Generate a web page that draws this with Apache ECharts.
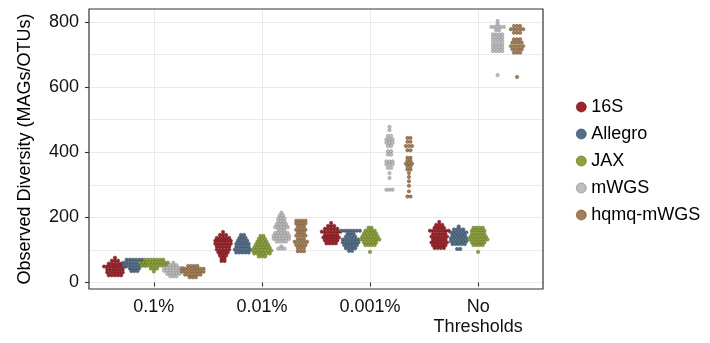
<!DOCTYPE html>
<html>
<head>
<meta charset="utf-8">
<script src="https://cdn.jsdelivr.net/npm/echarts@6/dist/echarts.min.js"></script>
<style>html,body{margin:0;padding:0;background:#fff;}#c{width:710px;height:343px;}</style>
</head>
<body>
<div id="c"></div>
<script>
// ---- Data ----
const categories = ['0.1%', '0.01%', '0.001%', 'No\nThresholds'];
const seriesNames = ['16S', 'Allegro', 'JAX', 'mWGS', 'hqmq-mWGS'];
const yTickLabels = [0, 200, 400, 600, 800];

// each group: rows of the dot stack as [value, number of dots in that row]
const rows16S = [
  [[76,1],[67,3],[58,5],[49,8],[40,6],[31,6],[22,5]],
  [[155,1],[146,3],[137,5],[128,6],[119,6],[110,5],[101,5],[92,4],[83,3],[74,2],[66,2]],
  [[183,1],[174,3],[165,5],[156,7],[147,5],[138,6],[129,5],[120,4]],
  [[186,1],[177,3],[168,4],[159,7],[150,5],[141,6],[132,5],[123,6],[114,5],[106,4]]
];
const rowsAllegro = [
  [[70,6],[61,8],[52,8],[43,4],[35,3]],
  [[146,2],[137,3],[128,4],[119,5],[110,5],[101,6],[92,5]],
  [[159,7],[150,3],[141,4],[132,6],[123,6],[114,5],[105,4],[97,2]],
  [[172,1],[163,4],[154,6],[145,5],[136,6],[127,6],[118,5],[103,2]]
];
const rowsJAX = [
  [[70,7],[61,10],[52,9],[43,3],[34,1]],
  [[143,2],[134,3],[125,4],[116,5],[107,6],[98,7],[89,6],[80,3]],
  [[168,2],[159,4],[150,5],[141,6],[132,7],[123,5],[115,4],[94,1]],
  [[168,4],[159,5],[150,5],[141,6],[132,7],[123,5],[115,4],[94,1]]
];
const rowsMWGS = [
  [[61,1],[53,3],[45,7],[36,7],[27,5],[19,3]],
  [[214,1],[206,2],[197,3],[188,3],[179,4],[170,5],[161,3],[152,5],[143,6],[134,6],[126,4],[111,1],[104,3]],
  [[478,1],[468,1],[450,2],[439,3],[429,3],[419,2],[403,2],[393,2],[372,3],[363,3],[352,2],[336,1],[321,1],[285,3]],
  [[803,1],[793,1],[785,5],[775,2],[762,4],[752,4],[742,4],[731,4],[721,4],[711,4],[637,1]]
];
const rowsHQMQ = [
  [[51,4],[42,8],[33,8],[24,6],[16,3]],
  [[190,4],[181,4],[172,3],[162,4],[153,3],[144,4],[134,3],[125,5],[115,4],[106,3],[96,3]],
  [[444,2],[432,2],[419,3],[406,2],[383,2],[374,2],[365,3],[357,2],[347,2],[336,1],[324,1],[311,1],[297,1],[280,1],[264,2]],
  [[788,3],[778,5],[767,3],[747,3],[737,4],[726,5],[716,4],[706,3],[631,1]]
];
const allRows = [rows16S, rowsAllegro, rowsJAX, rowsMWGS, rowsHQMQ];

// ---- Styling ----
const fills = ['#A3232B', '#546E89', '#8DA23A', '#BEBEBE', '#A57D55'];
const borders = ['#5a1215', '#2f4356', '#56661f', '#7d7d7d', '#6a4f34'];
const FONT = '"Liberation Sans", Arial, Helvetica, sans-serif';

const X_MIN = 0.4, X_MAX = 4.6, X_STEP = 0.2;
const Y_MIN = -20, Y_MAX = 840, Y_STEP = 20;
const dodgeWidth = 0.18;
const dotStep = 3.1 / 108; // horizontal spacing of dots in axis units

const xCats = [];
for (let i = 0; Math.round((X_MIN + X_STEP * i) * 10) <= X_MAX * 10; i++) xCats.push((X_MIN + X_STEP * i).toFixed(1));
const yCats = [];
for (let v = Y_MIN; v <= Y_MAX; v += Y_STEP) yCats.push(String(v));

function isIntCat(value) {
  const v = parseFloat(value);
  const k = Math.round(v);
  return Math.abs(v - k) < 1e-6 && k >= 1 && k <= categories.length;
}

const series = seriesNames.map((name, j) => {
  const data = [];
  allRows[j].forEach((groupRows, ci) => {
    const center = ci + 1 + (j - 2) * dodgeWidth;
    groupRows.forEach(([val, cnt]) => {
      for (let i = 0; i < cnt; i++) {
        data.push([center + (i - (cnt - 1) / 2) * dotStep, val]);
      }
    });
  });
  return {
    name: name,
    type: 'scatter',
    xAxisIndex: 1,
    yAxisIndex: 1,
    symbol: 'circle',
    symbolSize: 3.4,
    itemStyle: { color: fills[j], borderColor: borders[j], borderWidth: 0.45, opacity: 1 },
    emphasis: { disabled: true },
    data: data
  };
});

const chart = echarts.init(document.getElementById('c'), null, { renderer: 'canvas' });
chart.setOption({
  animation: false,
  backgroundColor: '#fff',
  textStyle: { fontFamily: FONT },
  grid: {
    left: 89, right: 167, top: 9, bottom: 54,
    show: true, borderColor: '#333', borderWidth: 1.2, backgroundColor: 'transparent', z: 5
  },
  legend: {
    orient: 'vertical',
    left: 576, top: 98,
    padding: 0,
    itemWidth: 10, itemHeight: 10, itemGap: 9,
    icon: 'circle',
    itemStyle: { borderWidth: 0.6 },
    textStyle: { fontSize: 18, color: '#000', fontFamily: FONT },
    data: seriesNames
  },
  xAxis: [
    {
      type: 'category',
      data: xCats,
      boundaryGap: false,
      axisLine: { show: false },
      axisTick: { show: true, length: 4, interval: (i, v) => isIntCat(v), lineStyle: { color: '#333', width: 1.1 } },
      axisLabel: {
        interval: (i, v) => isIntCat(v),
        formatter: (v) => isIntCat(v) ? categories[Math.round(parseFloat(v)) - 1] : '',
        fontSize: 18, color: '#111', margin: 8, lineHeight: 20, fontFamily: FONT
      },
      splitLine: { show: true, interval: (i, v) => isIntCat(v), lineStyle: { color: '#ebebeb', width: 1 } }
    },
    { type: 'value', min: X_MIN, max: X_MAX, show: false }
  ],
  yAxis: [
    {
      type: 'category',
      data: yCats,
      boundaryGap: false,
      name: 'Observed Diversity (MAGs/OTUs)',
      nameLocation: 'middle',
      nameGap: 55,
      nameTextStyle: { fontSize: 18, color: '#000', fontFamily: FONT },
      axisLine: { show: false },
      axisTick: { show: true, length: 4, interval: (i, v) => yTickLabels.indexOf(Number(v)) >= 0, lineStyle: { color: '#333', width: 1.1 } },
      axisLabel: {
        interval: (i, v) => yTickLabels.indexOf(Number(v)) >= 0,
        fontSize: 18, color: '#111', margin: 10, fontFamily: FONT
      },
      splitLine: { show: true, interval: (i, v) => Number(v) >= 0 && Number(v) % 100 === 0, lineStyle: { color: '#ebebeb', width: 1 } }
    },
    { type: 'value', min: Y_MIN, max: Y_MAX, show: false }
  ],
  series: series
});
</script>
</body>
</html>
